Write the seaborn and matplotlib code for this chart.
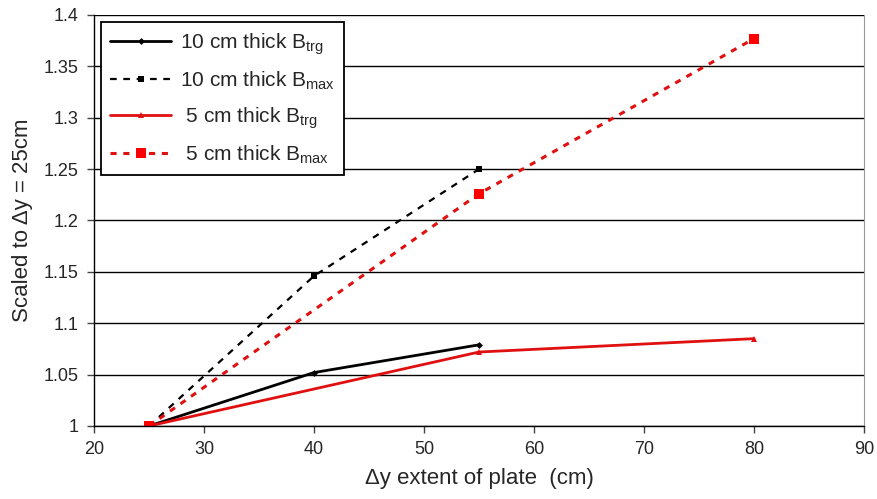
import matplotlib
matplotlib.use("Agg")
import matplotlib.pyplot as plt
import seaborn as sns

sns.set_style("white")
plt.rcParams["font.family"] = ["Liberation Sans", "DejaVu Sans"]
plt.rcParams["mathtext.fontset"] = "custom"
plt.rcParams["mathtext.rm"] = "Liberation Sans"

# Plate extent (cm) and scaled field values
x_10cm = [25, 40, 55]
btrg_10cm = [1.0, 1.052, 1.079]
bmax_10cm = [1.0, 1.146, 1.250]

x_5cm = [25, 55, 80]
btrg_5cm = [1.0, 1.072, 1.085]
bmax_5cm = [1.0, 1.226, 1.377]

labels = [
    r"10 cm thick B$_{\mathrm{trg}}$",
    r"10 cm thick B$_{\mathrm{max}}$",
    r" 5 cm thick B$_{\mathrm{trg}}$",
    r" 5 cm thick B$_{\mathrm{max}}$",
]

fig = plt.figure(figsize=(8.77, 4.99), dpi=100)
ax = fig.add_axes([0.1072, 0.1463, 0.8780, 0.8237])

red = "#e01010"

sns.lineplot(x=x_10cm, y=btrg_10cm, ax=ax, color="black", lw=2.0,
             marker="D", markersize=3.5, markeredgewidth=0, label=labels[0])
sns.lineplot(x=x_10cm, y=bmax_10cm, ax=ax, color="black", lw=1.6,
             linestyle=(0, (3, 3)), marker="s", markersize=4.5,
             markeredgewidth=0, label=labels[1])
sns.lineplot(x=x_5cm, y=btrg_5cm, ax=ax, color=red, lw=2.0,
             marker="^", markersize=4.5, markeredgewidth=0, label=labels[2])
sns.lineplot(x=x_5cm, y=bmax_5cm, ax=ax, color=red, lw=2.2,
             linestyle=(0, (2, 2.2)), marker="s", markersize=6.5,
             markerfacecolor="#ff0000", markeredgewidth=0, label=labels[3])

ax.set_xlim(20, 90)
ax.set_ylim(1.0, 1.4)
ax.set_xticks(range(20, 91, 10))
ax.set_yticks([1.0, 1.05, 1.1, 1.15, 1.2, 1.25, 1.3, 1.35, 1.4])
ax.set_yticklabels(["1", "1.05", "1.1", "1.15", "1.2", "1.25", "1.3", "1.35", "1.4"])
ax.yaxis.grid(True, color="black", lw=1.0)
ax.set_axisbelow(True)

ax.tick_params(axis="both", direction="out", length=5, width=1,
               color="#444444", labelsize=13, pad=6, left=True, bottom=True)

for side in ["left", "bottom"]:
    ax.spines[side].set_color("black")
    ax.spines[side].set_linewidth(1.0)
ax.spines["right"].set_color("#999999")
ax.spines["top"].set_visible(False)

ax.set_xlabel("Δy extent of plate  (cm)", fontsize=16, labelpad=7)
ax.set_ylabel("Scaled to Δy = 25cm", fontsize=16, labelpad=8)

leg = ax.legend(loc="upper left", bbox_to_anchor=(0.009, 0.983), borderaxespad=0,
                fontsize=15, frameon=True, fancybox=False, framealpha=1,
                edgecolor="black", handlelength=2.9, borderpad=0.45,
                labelspacing=0.6, handletextpad=0.45)
leg.get_frame().set_linewidth(1.3)

fig.savefig("out.png", dpi=100)
